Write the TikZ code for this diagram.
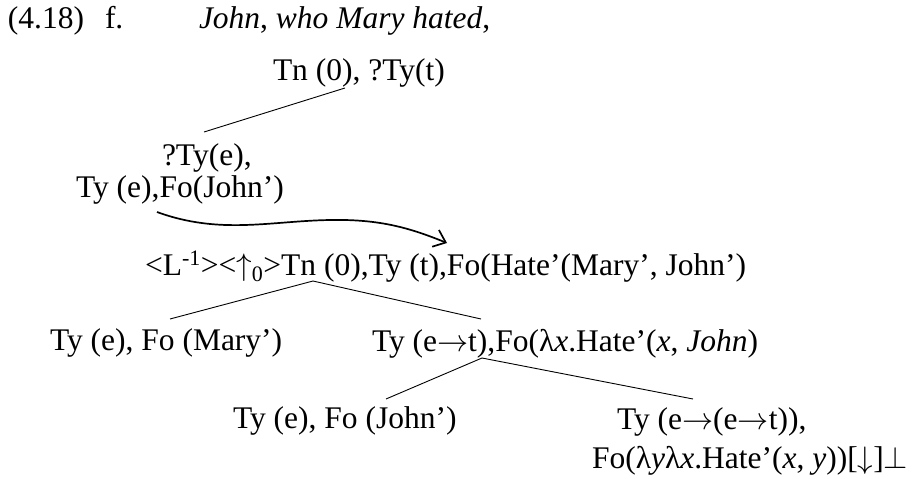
\documentclass[tikz,border=0pt]{standalone}
\usepackage{fontspec}
\setmainfont{Liberation Serif}
\usetikzlibrary{arrows.meta}
\newcommand{\rarr}{\scalebox{1.25}{$\rightarrow$}}
\newcommand{\uarr}{\scalebox{1.25}{$\uparrow$}}
\newcommand{\darr}{\scalebox{1.25}{$\downarrow$}}
\newcommand{\bott}{\scalebox{1.25}{$\perp$}}
\begin{document}
\begin{tikzpicture}[x=1pt,y=-1pt,
  lab/.style={anchor=base west,inner sep=0pt,outer sep=0pt,font=\fontsize{31.5}{36}\selectfont},
  edge/.style={line width=0.9pt},
  linkarrow/.style={line width=1.7pt,-{Straight Barb[length=11pt,width=18pt]}}]
\useasboundingbox (0,0) rectangle (924,479);
% header
\node[lab] (num) at (8,28) {(4.18)};
\node[lab] (fl) at (105,28) {f.};
\node[lab] (sent) at (199,28) {\textit{John}, \textit{who Mary hated},};
% upper tree
\node[lab] (root) at (273,80) {Tn (0), ?Ty(t)};
\node[lab] (qte) at (162,165) {?Ty(e),};
\node[lab] (tye) at (76,197) {Ty (e),Fo(John’)};
% linked tree
\node[lab] (lnk) at (145,275) {<L\textsuperscript{-1}><\uarr\textsubscript{0}>Tn (0),Ty (t),Fo(Hate’(Mary’, John’)};
\node[lab] (mary) at (50,350) {Ty (e), Fo (Mary’)};
\node[lab] (pred) at (372,351) {Ty (e\rarr t),Fo(λ\textit{x}.Hate’(\textit{x}, \textit{John})};
\node[lab] (john) at (233,428) {Ty (e), Fo (John’)};
\node[lab] (verbA) at (617,429) {Ty (e\rarr(e\rarr t)),};
\node[lab] (verbB) at (592,468) {Fo(λ\textit{y}λ\textit{x}.Hate’(\textit{x}, \textit{y}))[\darr]\bott};
% connector end points
\coordinate (rootB) at (345,88);
\coordinate (qteT) at (204,132);
\coordinate (lnkB) at (313,281);
\coordinate (maryT) at (170,319);
\coordinate (predT) at (481,319);
\coordinate (predB) at (482,358);
\coordinate (johnT) at (386,399);
\coordinate (verbT) at (693,399);
\coordinate (arrS) at (157,212);
\coordinate (arrM) at (330,220);
\coordinate (arrE) at (447,243);
% connectors
\draw[edge] (rootB) -- (qteT);
\draw[edge] (lnkB) -- (maryT);
\draw[edge] (lnkB) -- (predT);
\draw[edge] (predB) -- (johnT);
\draw[edge] (predB) -- (verbT);
\draw[linkarrow] (arrS) .. controls (220,235) and (270,221) .. (arrM)
                 .. controls (380,219) and (410,228) .. (arrE);
\end{tikzpicture}
\end{document}
